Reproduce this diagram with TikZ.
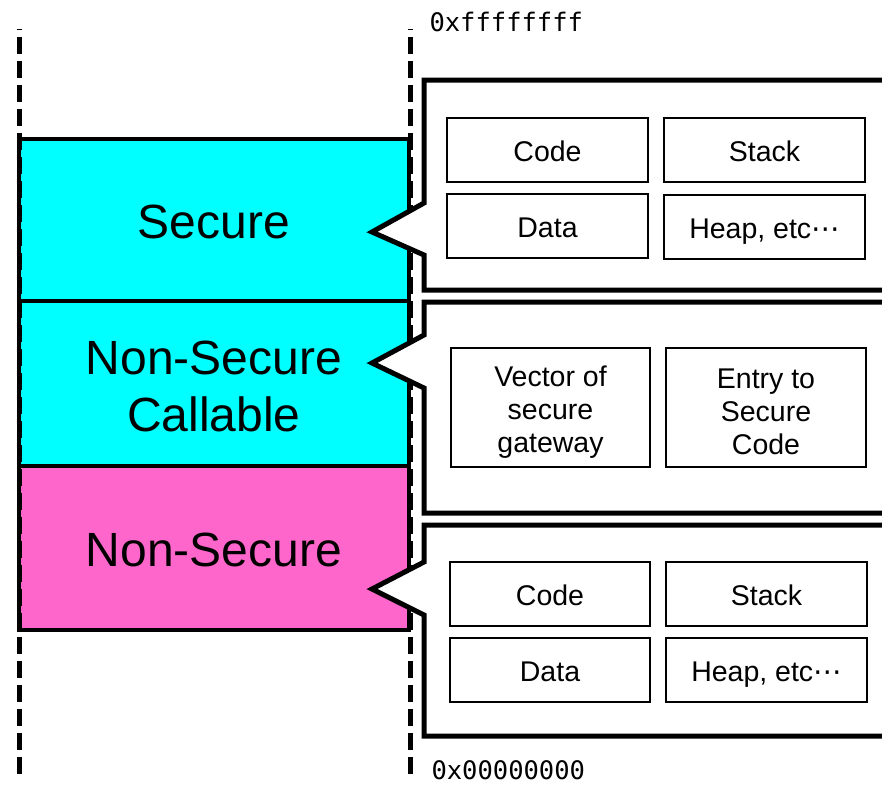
\documentclass[tikz,border=0pt]{standalone}
\usepackage{fontspec}
\setmainfont{Liberation Sans}
\newfontfamily\monofont{DejaVu Sans Mono}
\newfontfamily\symfont{DejaVu Sans}
\newcommand{\etcdots}{{\symfont\char"22EF}}
\definecolor{securecyan}{HTML}{00FFFF}
\definecolor{nspink}{HTML}{FF66CC}
\tikzset{
  region/.style={draw=black, line width=4pt},
  callout/.style={draw=black, fill=white, line width=5pt, line join=miter},
  itembox/.style={draw=black, line width=2.5pt, fill=white, inner sep=0pt,
    align=center, font=\fontsize{28.5}{33}\selectfont},
  oneline/.style={itembox, text height=24pt, text depth=2pt},
  bigtext/.style={font=\fontsize{48}{57}\selectfont, align=center},
  addr/.style={font=\monofont\fontsize{25.5}{28}\selectfont, anchor=west},
  guide/.style={draw=black, line width=5pt, dash pattern=on 17pt off 7pt, dash phase=16pt},
}
\begin{document}
\begin{tikzpicture}[x=1pt, y=-1pt]
\useasboundingbox (0,0) rectangle (882,785);
\clip (0,0) rectangle (882,785);

% memory regions on the left
\filldraw[region, fill=securecyan] (19,139) rectangle (409,301);
\filldraw[region, fill=securecyan] (19,301) rectangle (409,466);
\filldraw[region, fill=nspink] (19,466) rectangle (409,630);
\node[bigtext] (sec) at (214,222) {Secure};
\node[bigtext] (nsc) at (214,386) {Non-Secure\\Callable};
\node[bigtext] (ns) at (214,550) {Non-Secure};

% address range guides
\draw[guide] (19,29) coordinate (lt) -- (19,776) coordinate (lb);
\draw[guide] (410,29) coordinate (rt) -- (410,776) coordinate (rb);

% callouts
\draw[callout] (890,80) -- (424,80) -- (424,203) -- (372,232) -- (424,255) -- (424,290) -- (890,290);
\draw[callout] (890,302) -- (424,302) -- (424,335) -- (372,363) -- (424,388) -- (424,513) -- (890,513);
\draw[callout] (890,525) -- (424,525) -- (424,562) -- (372,589) -- (424,615) -- (424,736) -- (890,736);

% secure contents
\node[oneline, minimum width=201pt, minimum height=64pt] (scode) at (547.5,150) {Code};
\node[oneline, minimum width=201pt, minimum height=64pt] (sstack) at (764.5,150) {Stack};
\node[oneline, minimum width=201pt, minimum height=64pt] (sdata) at (547.5,226) {Data};
\node[oneline, minimum width=201pt, minimum height=64pt] (sheap) at (764.5,227) {Heap, etc\etcdots};

% non-secure callable contents
\node[itembox, minimum width=199pt, minimum height=119pt] (vec) at (550.5,407.5) {\rule{0pt}{29pt}Vector of\\secure\\gateway};
\node[itembox, minimum width=200pt, minimum height=119pt] (entry) at (766,407.5) {\rule{0pt}{28pt}Entry to\\Secure\\Code};

% non-secure contents
\node[oneline, minimum width=200pt, minimum height=64pt] (ncode) at (550,594) {Code};
\node[oneline, minimum width=201pt, minimum height=64pt] (nstack) at (766.5,594) {Stack};
\node[oneline, minimum width=200pt, minimum height=64pt] (ndata) at (550,670) {Data};
\node[oneline, minimum width=201pt, minimum height=64pt] (nheap) at (766.5,670) {Heap, etc\etcdots};

% address labels
\node[addr] (top) at (426,22) {0xffffffff};
\node[addr] (bot) at (428,770) {0x00000000};
\end{tikzpicture}
\end{document}
